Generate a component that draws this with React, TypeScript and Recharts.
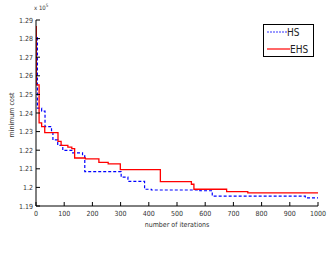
import React from 'react';
import { LineChart, Line, XAxis, YAxis, Legend } from 'recharts';

// iterations at which each best-cost curve steps down
const hsIter = [4, 5, 20, 32, 55, 60, 77, 95, 130, 165, 173, 302, 326, 385, 409, 581, 625, 955, 1000];
const hsCost = [1.2805, 1.2426, 1.241, 1.2327, 1.2305, 1.2255, 1.2226, 1.2199, 1.2186, 1.217, 1.2085, 1.2055, 1.2032, 1.199, 1.1986, 1.1982, 1.1953, 1.1944, 1.1944];

const ehsIter = [0, 1, 11, 20, 31, 78, 89, 113, 127, 137, 175, 223, 256, 299, 441, 551, 560, 676, 751, 1000];
const ehsCost = [1.2864, 1.2551, 1.2347, 1.2327, 1.2294, 1.2247, 1.2226, 1.2217, 1.2208, 1.2158, 1.2153, 1.2135, 1.2126, 1.2096, 1.2031, 1.2017, 1.199, 1.1977, 1.1971, 1.1971];

const xTicks = [0, 100, 200, 300, 400, 500, 600, 700, 800, 900, 1000];
const yTicks = [1.19, 1.2, 1.21, 1.22, 1.23, 1.24, 1.25, 1.26, 1.27, 1.28, 1.29];
const legendOrder = ['HS', 'EHS'];

const hsData = hsIter.map((it, i) => ({ iter: it, cost: hsCost[i] }));
const ehsData = ehsIter.map((it, i) => ({ iter: it, cost: ehsCost[i] }));

const FONT = '"Liberation Sans Narrow", "DejaVu Sans Condensed", "Liberation Sans", sans-serif';
const TXT = '#333';

const fmtY = (v: number) => String(parseFloat(v.toFixed(2)));

const BottomTick = (p: any) => (
  <g>
    <line x1={p.x} y1={p.y} x2={p.x} y2={p.y - 4} stroke="#000" />
    <text x={p.x} y={p.y + 10} textAnchor="middle" fontSize={7} fontFamily={FONT} fill={TXT}>
      {p.payload.value}
    </text>
  </g>
);

const TopTick = (p: any) => <line x1={p.x} y1={p.y} x2={p.x} y2={p.y + 4} stroke="#000" />;

const LeftTick = (p: any) => (
  <g>
    <line x1={p.x} y1={p.y} x2={p.x + 4} y2={p.y} stroke="#000" />
    <text x={p.x - 3} y={p.y + 2.5} textAnchor="end" fontSize={7} fontFamily={FONT} fill={TXT}>
      {fmtY(p.payload.value)}
    </text>
  </g>
);

const RightTick = (p: any) => <line x1={p.x} y1={p.y} x2={p.x - 4} y2={p.y} stroke="#000" />;

const LegendBox = (props: any) => {
  const items = [...(props.payload || [])].sort(
    (a: any, b: any) => legendOrder.indexOf(a.value) - legendOrder.indexOf(b.value)
  );
  return (
    <svg width={51} height={33}>
      <rect x={0.5} y={0.5} width={50} height={32} fill="#fff" stroke="#000" />
      {items.map((e: any, i: number) => {
        const y = 8 + i * 17;
        const dashed = e.value === 'HS';
        return (
          <g key={e.value}>
            <line
              x1={4}
              x2={dashed ? 24 : 27}
              y1={y}
              y2={y}
              stroke={e.color}
              strokeWidth={dashed ? 0.8 : 1.2}
              strokeDasharray={dashed ? '2 1' : undefined}
            />
            <text x={dashed ? 24 : 27} y={y + 3.5} fontSize={10} fontFamily={FONT} fill="#222">
              {e.value}
            </text>
          </g>
        );
      })}
    </svg>
  );
};

export default function App() {
  return (
    <div style={{ position: 'absolute', left: 0, top: 0, width: 329, height: 265, background: '#fff' }}>
      <LineChart width={329} height={265} margin={{ top: 20, right: 11, bottom: 12, left: 6 }}>
        <XAxis
          dataKey="iter"
          type="number"
          domain={[0, 1000]}
          ticks={xTicks}
          allowDataOverflow
          height={14}
          tickSize={0}
          tickMargin={0}
          tickLine={false}
          axisLine={{ stroke: '#000' }}
          tick={BottomTick}
          interval={0}
          label={{
            value: 'number of iterations',
            content: (lp: any) => (
              <text
                x={lp.viewBox.x + lp.viewBox.width / 2}
                y={lp.viewBox.y + 21}
                textAnchor="middle"
                fontSize={7}
                fontFamily={FONT}
                fill={TXT}
              >
                number of iterations
              </text>
            ),
          }}
        />
        <XAxis
          xAxisId="top"
          orientation="top"
          type="number"
          domain={[0, 1000]}
          ticks={xTicks}
          allowDataOverflow
          height={0}
          tickSize={0}
          tickMargin={0}
          tickLine={false}
          axisLine={{ stroke: '#000' }}
          tick={TopTick}
          interval={0}
        />
        <YAxis
          type="number"
          domain={[1.19, 1.29]}
          ticks={yTicks}
          allowDataOverflow
          width={30}
          tickSize={0}
          tickMargin={0}
          tickLine={false}
          axisLine={{ stroke: '#000' }}
          tick={LeftTick}
          interval={0}
          label={{
            value: 'minimum cost',
            content: (lp: any) => {
              const cx = lp.viewBox.x + 8;
              const cy = lp.viewBox.y + lp.viewBox.height / 2 + 2;
              return (
                <text
                  x={cx}
                  y={cy}
                  transform={`rotate(-90 ${cx} ${cy})`}
                  textAnchor="middle"
                  fontSize={7}
                  fontFamily={FONT}
                  fill={TXT}
                >
                  minimum cost
                </text>
              );
            },
          }}
        />
        <YAxis
          yAxisId="right"
          orientation="right"
          type="number"
          domain={[1.19, 1.29]}
          ticks={yTicks}
          allowDataOverflow
          width={0}
          tickSize={0}
          tickMargin={0}
          tickLine={false}
          axisLine={{ stroke: '#000' }}
          tick={RightTick}
          interval={0}
        />
        <text x={34} y={10} fontSize={6} fontFamily={FONT} fill={TXT}>
          x 10
          <tspan dy={-3} fontSize={4.5}>5</tspan>
        </text>
        <Legend
          content={LegendBox}
          wrapperStyle={{ position: 'absolute', left: 263, top: 24, width: 51, height: 33 }}
        />
        <Line
          data={hsData}
          dataKey="cost"
          name="HS"
          type="stepAfter"
          stroke="#0000ff"
          strokeWidth={1.2}
          strokeDasharray="3 2"
          dot={false}
          activeDot={false}
          isAnimationActive={false}
        />
        <Line
          data={ehsData}
          dataKey="cost"
          name="EHS"
          type="stepAfter"
          stroke="#ff0000"
          strokeWidth={1.3}
          dot={false}
          activeDot={false}
          isAnimationActive={false}
        />
      </LineChart>
    </div>
  );
}
